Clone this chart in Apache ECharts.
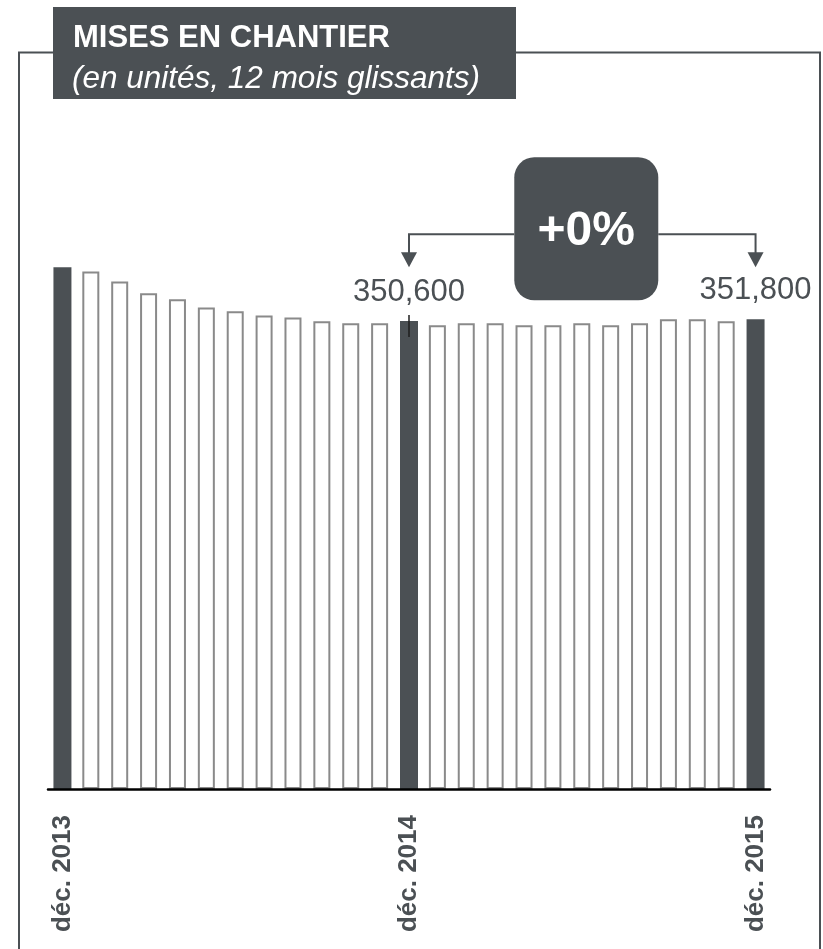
<!DOCTYPE html>
<html>
<head>
<meta charset="utf-8">
<script src="https://cdn.jsdelivr.net/npm/echarts@6/dist/echarts.min.js"></script>
<style>
html,body{margin:0;padding:0;background:#fff;}
#chart{width:823px;height:949px;}
</style>
</head>
<body>
<div id="chart"></div>
<script>
const categories = ["déc. 2013","janv. 2014","févr. 2014","mars 2014","avr. 2014","mai 2014","juin 2014","juil. 2014","août 2014","sept. 2014","oct. 2014","nov. 2014","déc. 2014","janv. 2015","févr. 2015","mars 2015","avr. 2015","mai 2015","juin 2015","juil. 2015","août 2015","sept. 2015","oct. 2015","nov. 2015","déc. 2015"];
const values = [390900, 387600, 380100, 371400, 366900, 360600, 357900, 354600, 353100, 350400, 348900, 348900, 350600, 347300, 348900, 348900, 347300, 347300, 348900, 347300, 348900, 351800, 351800, 350300, 351800];
const highlighted = [0, 12, 24];
const labelled = [12, 24];
const titleText = "MISES EN CHANTIER";
const subtitleText = "(en unités, 12 mois glissants)";
const changeText = "+0%";

const DARK = '#4b5054';
const fmt = v => v.toLocaleString('en-US');

const darkData = values.map((v, i) => {
  if (highlighted.indexOf(i) < 0) return '-';
  const item = { value: v };
  if (labelled.indexOf(i) >= 0) {
    item.label = {
      show: true, position: 'top', distance: 13,
      formatter: p => fmt(p.value),
      fontSize: 31, color: DARK, fontFamily: 'Liberation Sans, Arial, sans-serif'
    };
  }
  return item;
});
const hollowData = values.map((v, i) => highlighted.indexOf(i) >= 0 ? '-' : v);

const chart = echarts.init(document.getElementById('chart'), null, { renderer: 'canvas' });
chart.setOption({
  animation: false,
  backgroundColor: '#fff',
  grid: { left: 48, right: 53, top: 121.5, bottom: 160 },
  xAxis: {
    type: 'category', data: categories, boundaryGap: true,
    axisLine: { show: true, lineStyle: { color: '#000', width: 2.5 } },
    axisTick: { show: false },
    axisLabel: {
      interval: i => i % 12 === 0,
      rotate: 90, margin: 26, fontSize: 26, fontWeight: 'bold', color: DARK,
      fontFamily: 'Liberation Sans, Arial, sans-serif'
    },
    z: 10
  },
  yAxis: { type: 'value', min: 0, max: 500000, show: false, splitLine: { show: false } },
  series: [
    {
      type: 'bar', data: hollowData, barWidth: 17, barGap: '-100%',
      itemStyle: { color: '#fff', borderColor: '#8a8a8a', borderWidth: 2 }
    },
    {
      type: 'bar', data: darkData, barWidth: 18, barGap: '-100%',
      itemStyle: { color: DARK }
    }
  ]
});

function build() {
  const pA = chart.convertToPixel({ seriesIndex: 1 }, [12, values[12]]);
  const pB = chart.convertToPixel({ seriesIndex: 1 }, [24, values[24]]);
  const topY = Math.min(pA[1], pB[1]);
  const lineY = topY - 85;
  const tipY = topY - 52;
  const headH = 15;
  const boxW = 144, boxH = 143;
  const boxX = (pA[0] + pB[0]) / 2 - boxW / 2 + 4;
  const boxY = topY - 162;
  const elems = [
    // frame
    { type: 'polyline', shape: { points: [[19, 949], [19, 52.5], [820, 52.5], [820, 949]] }, style: { stroke: DARK, lineWidth: 2, fill: null }, z: 1 },
    // title box
    { type: 'rect', shape: { x: 53, y: 7, width: 463, height: 92 }, style: { fill: DARK }, z: 2 },
    { type: 'text', x: 73, y: 38, style: { text: titleText, fill: '#fff', font: 'bold 31px "Liberation Sans", Arial, sans-serif', verticalAlign: 'middle', textVerticalAlign: 'middle' }, z: 3 },
    { type: 'text', x: 72, y: 79, style: { text: subtitleText, fill: '#fff', font: 'italic 31.5px "Liberation Sans", Arial, sans-serif', verticalAlign: 'middle', textVerticalAlign: 'middle' }, z: 3 },
    // arrows
    { type: 'polyline', shape: { points: [[pA[0], tipY - headH + 1], [pA[0], lineY], [boxX, lineY]] }, style: { stroke: DARK, lineWidth: 2, fill: null }, z: 3 },
    { type: 'polyline', shape: { points: [[boxX + boxW, lineY], [pB[0], lineY], [pB[0], tipY - headH + 1]] }, style: { stroke: DARK, lineWidth: 2, fill: null }, z: 3 },
    { type: 'polygon', shape: { points: [[pA[0] - 8, tipY - headH], [pA[0] + 8, tipY - headH], [pA[0], tipY]] }, style: { fill: DARK }, z: 3 },
    { type: 'polygon', shape: { points: [[pB[0] - 8, tipY - headH], [pB[0] + 8, tipY - headH], [pB[0], tipY]] }, style: { fill: DARK }, z: 3 },
    // change box
    { type: 'rect', shape: { x: boxX, y: boxY, width: boxW, height: boxH, r: 20 }, style: { fill: DARK }, z: 4 },
    { type: 'text', x: boxX + boxW / 2, y: boxY + 74, style: { text: changeText, fill: '#fff', font: 'bold 48px "Liberation Sans", Arial, sans-serif', textAlign: 'center', align: 'center', textVerticalAlign: 'middle', verticalAlign: 'middle' }, z: 5 },
    // leader tick on 2014 bar
    { type: 'line', shape: { x1: pA[0], y1: pA[1] - 6, x2: pA[0], y2: pA[1] + 16 }, style: { stroke: '#1e1e1e', lineWidth: 1.5 }, z: 6 }
  ];
  chart.setOption({ graphic: { elements: elems } });
}
build();
</script>
</body>
</html>
